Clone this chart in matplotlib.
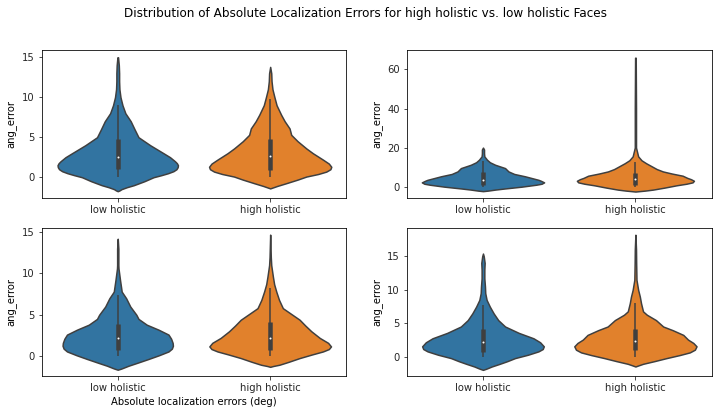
import matplotlib
matplotlib.use("Agg")
import matplotlib.pyplot as plt
import numpy as np

GROUPS = ["low holistic", "high holistic"]
BLUE = "#3274a1"
ORANGE = "#e1812c"
DARK = "#3f3f3f"

# violin outlines: error value, half width in axis units
p1_low_y = [-1.75, -1.65, -1.5, -1.25, -1, -0.5, 0, 0.25, 0.5, 0.75, 1, 1.25, 1.5, 1.75, 2, 2.5, 3, 4, 5, 6, 7, 8, 9, 10, 11, 12, 13, 14, 15]
p1_low_w = [0, .012, .024, .060, .105, .175, .235, .285, .330, .365, .385, .393, .395, .388, .375, .343, .300, .213, .136, .110, .085, .050, .031, .018, .011, .009, .009, .007, .002]
p1_high_y = [-1.4, -1.3, -1.1, -0.75, -0.3, 0.08, 0.4, 0.7, 1, 1.3, 1.7, 2.2, 3, 3.6, 4.5, 5.3, 6.1, 7, 7.8, 9, 10, 11, 12, 13, 13.8]
p1_high_w = [0, .015, .045, .105, .180, .237, .315, .368, .395, .401, .385, .346, .280, .237, .180, .138, .127, .095, .072, .042, .028, .015, .009, .007, 0]

p2_low_y = [-2.3, -2, -1.5, -1, 0, 1, 1.5, 2.2, 3, 3.5, 4.5, 5.3, 6.5, 7.8, 9.5, 11.2, 12.5, 13.8, 15.5, 17, 19, 20]
p2_low_w = [0, .035, .080, .135, .254, .350, .385, .401, .380, .364, .315, .276, .205, .167, .145, .080, .045, .026, .009, .007, .007, 0]
p2_high_y = [-2.5, -2, -1.5, -0.5, 0.7, 1.5, 2.2, 3, 3.8, 4.5, 5.6, 6.7, 7.8, 9, 10.5, 12, 13.5, 15.5, 20, 40, 66]
p2_high_w = [0, .065, .116, .190, .270, .335, .375, .384, .365, .340, .310, .240, .180, .140, .105, .070, .040, .018, .004, .004, .002]

p3_low_y = [-1.65, -1.5, -1.17, -0.8, -0.36, 0.1, 0.56, 0.9, 1.25, 1.6, 2.1, 2.6, 3.2, 3.8, 4.5, 5, 6, 7, 7.8, 9.2, 10.6, 11, 12, 13, 14.2]
p3_low_w = [0, .025, .070, .130, .200, .270, .333, .355, .362, .360, .350, .333, .267, .190, .136, .122, .082, .055, .026, .015, .005, .004, .004, .004, 0]
p3_high_y = [-1.3, -1.2, -1.05, -0.7, -0.24, 0.2, 0.56, 0.85, 1.17, 1.6, 2.2, 3, 3.7, 4.4, 5.2, 5.8, 6.8, 7.8, 8.7, 9.6, 11, 12, 14.7]
p3_high_w = [0, .020, .060, .120, .193, .275, .346, .385, .399, .380, .325, .270, .230, .193, .130, .083, .058, .040, .026, .018, .007, .004, 0]

p4_low_y = [-1.9, -1.7, -1.4, -1, -0.6, -0.15, 0.35, 0.85, 1.2, 1.6, 2.2, 2.8, 3.6, 4.55, 5.5, 6.5, 7.5, 8.5, 9.5, 10.5, 11.7, 13, 14, 15, 15.4]
p4_low_w = [0, .025, .057, .110, .160, .210, .295, .364, .392, .399, .375, .331, .235, .145, .100, .070, .045, .024, .015, .013, .009, .009, .011, .005, 0]
p4_high_y = [-1.4, -1.25, -1, -0.6, -0.15, 0.3, 0.7, 1.1, 1.6, 2.1, 2.6, 3.3, 4, 4.55, 5.5, 6.3, 6.8, 8, 9, 10, 11.5, 14, 16, 18.2]
p4_high_w = [0, .018, .050, .125, .204, .290, .357, .390, .401, .380, .345, .314, .245, .182, .135, .075, .050, .037, .029, .018, .007, .005, .004, 0]

# whisker low, box low, median, box high, whisker high
p1_box = [[0, 1.0, 2.5, 4.8, 9.0], [0, 0.9, 2.6, 4.8, 9.8]]
p2_box = [[0, 1.0, 3.4, 7.5, 13.0], [0, 0.7, 3.8, 7.0, 12.5]]
p3_box = [[0, 0.7, 2.2, 3.9, 7.4], [0, 0.7, 2.2, 4.1, 8.2]]
p4_box = [[0, 0.7, 2.2, 4.2, 7.8], [0, 1.0, 2.4, 4.2, 8.0]]

p1_ylim = (-2.6, 15.9)
p2_ylim = (-5.8, 69.9)
p3_ylim = (-2.4, 15.5)
p4_ylim = (-2.8, 19.2)


def draw_violin(ax, pos, ys, widths, box, color):
    ys = np.array(ys)
    widths = np.array(widths)
    ax.fill_betweenx(ys, pos - widths, pos + widths, facecolor=color,
                     edgecolor=DARK, linewidth=1.5, joinstyle="round", zorder=2)
    ax.plot([pos, pos], [box[0], box[4]], color=DARK, linewidth=1.5,
            solid_capstyle="butt", zorder=3)
    ax.plot([pos, pos], [box[1], box[3]], color=DARK, linewidth=4.5,
            solid_capstyle="butt", zorder=3)
    ax.scatter([pos], [box[2]], s=4, color="white", linewidths=0, zorder=4)


def plot_panel(ax, low, high, ylim):
    draw_violin(ax, 0, low[0], low[1], low[2], BLUE)
    draw_violin(ax, 1, high[0], high[1], high[2], ORANGE)
    ax.set_xlim(-0.5, 1.5)
    ax.set_ylim(*ylim)
    ax.set_xticks([0, 1])
    ax.set_xticklabels(GROUPS)
    ax.set_ylabel("ang_error")
    ax.tick_params(colors="#262626")


fig, axes = plt.subplots(2, 2, figsize=(721 / 72, 414 / 72), dpi=72)
fig.subplots_adjust(left=0.0576, right=0.987, top=0.879, bottom=0.092,
                    wspace=0.198, hspace=0.203)
fig.suptitle("Distribution of Absolute Localization Errors for high holistic vs. low holistic Faces",
             fontsize=12, x=0.507, y=0.968, va="center")

plot_panel(axes[0][0], (p1_low_y, p1_low_w, p1_box[0]), (p1_high_y, p1_high_w, p1_box[1]), p1_ylim)
plot_panel(axes[0][1], (p2_low_y, p2_low_w, p2_box[0]), (p2_high_y, p2_high_w, p2_box[1]), p2_ylim)
plot_panel(axes[1][0], (p3_low_y, p3_low_w, p3_box[0]), (p3_high_y, p3_high_w, p3_box[1]), p3_ylim)
plot_panel(axes[1][1], (p4_low_y, p4_low_w, p4_box[0]), (p4_high_y, p4_high_w, p4_box[1]), p4_ylim)
axes[1][0].set_xlabel("Absolute localization errors (deg)")

fig.savefig("out.png", dpi=72)
